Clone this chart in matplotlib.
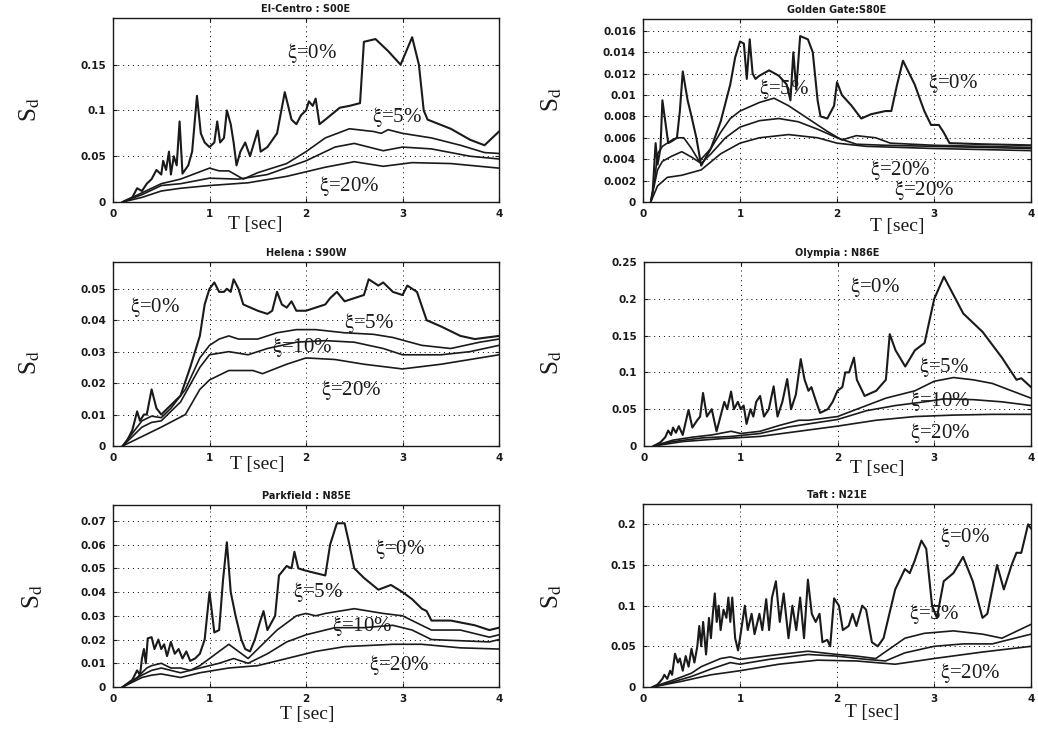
import matplotlib
matplotlib.use("Agg")
from matplotlib import pyplot as plt

# ---- data: (T [sec], Sd) ----
# El-Centro : S00E
elc_0 = [(0.1, 0), (0.2, 0.005), (0.25, 0.015), (0.3, 0.012), (0.35, 0.02), (0.4, 0.025),
         (0.45, 0.035), (0.5, 0.03), (0.52, 0.045), (0.55, 0.035), (0.58, 0.055), (0.6, 0.03),
         (0.63, 0.05), (0.66, 0.04), (0.69, 0.088), (0.72, 0.031), (0.78, 0.04), (0.82, 0.055),
         (0.87, 0.116), (0.91, 0.075), (0.95, 0.065), (1.0, 0.06), (1.05, 0.065), (1.08, 0.088),
         (1.11, 0.065), (1.15, 0.07), (1.18, 0.1), (1.22, 0.085), (1.25, 0.065), (1.28, 0.04),
         (1.32, 0.055), (1.37, 0.065), (1.42, 0.05), (1.5, 0.078), (1.53, 0.055), (1.6, 0.06),
         (1.7, 0.075), (1.78, 0.12), (1.85, 0.09), (1.9, 0.085), (1.95, 0.095), (2.0, 0.1),
         (2.03, 0.11), (2.07, 0.105), (2.1, 0.113), (2.14, 0.085), (2.2, 0.09), (2.35, 0.103),
         (2.45, 0.105), (2.56, 0.108), (2.6, 0.175), (2.72, 0.178), (2.85, 0.165), (2.98, 0.15),
         (3.1, 0.18), (3.17, 0.15), (3.22, 0.1), (3.26, 0.09), (3.5, 0.08), (3.7, 0.068),
         (3.85, 0.062), (4.0, 0.077)]
elc_5 = [(0.1, 0), (0.3, 0.01), (0.5, 0.02), (0.7, 0.025), (0.9, 0.033), (1.0, 0.037),
         (1.1, 0.034), (1.2, 0.034), (1.35, 0.025), (1.5, 0.032), (1.8, 0.042), (2.0, 0.055),
         (2.2, 0.07), (2.45, 0.08), (2.7, 0.077), (2.78, 0.075), (2.85, 0.079), (3.0, 0.075),
         (3.3, 0.07), (3.6, 0.062), (3.85, 0.054), (4.0, 0.053)]
elc_10 = [(0.1, 0), (0.3, 0.008), (0.5, 0.018), (0.7, 0.02), (1.0, 0.026), (1.3, 0.025),
          (1.6, 0.03), (2.0, 0.045), (2.3, 0.06), (2.5, 0.064), (2.8, 0.056), (3.0, 0.06),
          (3.3, 0.058), (3.7, 0.05), (4.0, 0.047)]
elc_20 = [(0.1, 0), (0.3, 0.005), (0.5, 0.012), (0.7, 0.015), (1.0, 0.018), (1.4, 0.021),
          (1.8, 0.028), (2.2, 0.038), (2.5, 0.044), (2.8, 0.039), (3.1, 0.043), (3.5, 0.042),
          (4.0, 0.037)]

# Golden Gate : S80E
gg_0 = [(0.08, 0), (0.1, 0.001), (0.13, 0.0055), (0.15, 0.0035), (0.18, 0.005), (0.2, 0.0095),
        (0.23, 0.0075), (0.26, 0.0055), (0.3, 0.0057), (0.35, 0.006), (0.38, 0.0085),
        (0.41, 0.0122), (0.46, 0.0095), (0.5, 0.008), (0.55, 0.006), (0.6, 0.0034), (0.7, 0.005),
        (0.8, 0.0075), (0.9, 0.011), (0.95, 0.0135), (1.0, 0.015), (1.04, 0.0148), (1.07, 0.0115),
        (1.1, 0.0152), (1.13, 0.012), (1.16, 0.0115), (1.2, 0.0118), (1.3, 0.0123), (1.4, 0.0118),
        (1.48, 0.011), (1.52, 0.0095), (1.55, 0.014), (1.58, 0.0105), (1.62, 0.0155), (1.7, 0.0152),
        (1.75, 0.014), (1.8, 0.0095), (1.83, 0.008), (1.9, 0.0078), (1.97, 0.009), (2.0, 0.0112),
        (2.05, 0.01), (2.15, 0.009), (2.25, 0.0078), (2.35, 0.0082), (2.5, 0.0085), (2.56, 0.0085),
        (2.62, 0.011), (2.68, 0.0132), (2.8, 0.011), (2.9, 0.0085), (2.97, 0.0072), (3.05, 0.0072),
        (3.1, 0.0065), (3.16, 0.0055), (3.5, 0.0054), (4.0, 0.0053)]
gg_5 = [(0.08, 0), (0.12, 0.002), (0.15, 0.0045), (0.2, 0.0052), (0.25, 0.0055), (0.3, 0.0058),
        (0.35, 0.006), (0.42, 0.006), (0.5, 0.005), (0.58, 0.0038), (0.7, 0.005), (0.8, 0.0065),
        (0.9, 0.0078), (1.0, 0.0085), (1.2, 0.0093), (1.35, 0.0097), (1.5, 0.009), (1.7, 0.0078),
        (1.9, 0.0066), (2.05, 0.0058), (2.2, 0.0062), (2.4, 0.006), (2.55, 0.0055), (3.0, 0.0053),
        (4.0, 0.0051)]
gg_10 = [(0.08, 0), (0.15, 0.003), (0.2, 0.0038), (0.3, 0.0043), (0.4, 0.0047), (0.5, 0.0042),
         (0.6, 0.0036), (0.7, 0.0045), (0.85, 0.006), (1.0, 0.007), (1.2, 0.0076), (1.4, 0.0078),
         (1.6, 0.0075), (1.8, 0.0068), (2.0, 0.006), (2.2, 0.0054), (2.5, 0.0053), (3.0, 0.0052),
         (4.0, 0.005)]
gg_20 = [(0.08, 0), (0.15, 0.0015), (0.25, 0.0023), (0.4, 0.0025), (0.6, 0.003), (0.8, 0.0045),
         (1.0, 0.0055), (1.2, 0.006), (1.5, 0.0063), (1.8, 0.006), (2.0, 0.0055), (2.3, 0.0052),
         (3.0, 0.005), (4.0, 0.0048)]

# Helena : S90W
hel_0 = [(0.1, 0), (0.15, 0.002), (0.2, 0.005), (0.25, 0.011), (0.28, 0.008), (0.32, 0.01),
         (0.35, 0.01), (0.4, 0.018), (0.45, 0.012), (0.5, 0.01), (0.6, 0.013), (0.7, 0.016),
         (0.8, 0.025), (0.9, 0.035), (0.95, 0.045), (1.0, 0.05), (1.05, 0.052), (1.1, 0.049),
         (1.15, 0.049), (1.18, 0.05), (1.22, 0.049), (1.25, 0.053), (1.3, 0.05), (1.35, 0.045),
         (1.5, 0.043), (1.6, 0.042), (1.65, 0.043), (1.7, 0.049), (1.75, 0.045), (1.8, 0.044),
         (1.85, 0.046), (1.9, 0.043), (2.0, 0.043), (2.1, 0.044), (2.2, 0.045), (2.25, 0.047),
         (2.32, 0.049), (2.4, 0.046), (2.5, 0.047), (2.6, 0.048), (2.65, 0.053), (2.75, 0.051),
         (2.8, 0.052), (2.9, 0.049), (3.0, 0.048), (3.05, 0.051), (3.15, 0.049), (3.25, 0.04),
         (3.4, 0.038), (3.6, 0.035), (3.75, 0.034), (4.0, 0.035)]
hel_5 = [(0.1, 0), (0.2, 0.004), (0.3, 0.008), (0.4, 0.0095), (0.5, 0.009), (0.6, 0.012),
         (0.75, 0.018), (0.9, 0.028), (1.0, 0.032), (1.1, 0.034), (1.2, 0.035), (1.3, 0.034),
         (1.5, 0.034), (1.7, 0.036), (1.9, 0.037), (2.1, 0.037), (2.4, 0.036), (2.7, 0.0355),
         (2.9, 0.0345), (3.2, 0.032), (3.5, 0.031), (3.8, 0.033), (4.0, 0.034)]
hel_10 = [(0.1, 0), (0.2, 0.003), (0.3, 0.006), (0.4, 0.0075), (0.5, 0.008), (0.7, 0.014),
          (0.9, 0.025), (1.0, 0.029), (1.2, 0.03), (1.4, 0.029), (1.6, 0.031), (1.9, 0.033),
          (2.2, 0.0335), (2.5, 0.033), (2.8, 0.031), (3.0, 0.029), (3.4, 0.029), (3.7, 0.03),
          (4.0, 0.032)]
hel_20 = [(0.1, 0), (0.3, 0.003), (0.5, 0.006), (0.75, 0.01), (0.9, 0.018), (1.0, 0.021),
          (1.2, 0.024), (1.45, 0.024), (1.55, 0.023), (1.8, 0.026), (2.0, 0.028), (2.3, 0.0275),
          (2.6, 0.026), (3.0, 0.0245), (3.4, 0.026), (3.7, 0.0275), (4.0, 0.029)]

# Olympia : N86E
oly_0 = [(0.1, 0), (0.17, 0.005), (0.22, 0.012), (0.25, 0.021), (0.28, 0.015), (0.3, 0.025),
         (0.33, 0.018), (0.36, 0.027), (0.4, 0.015), (0.46, 0.049), (0.5, 0.025), (0.55, 0.035),
         (0.58, 0.04), (0.61, 0.072), (0.65, 0.04), (0.7, 0.05), (0.75, 0.02), (0.8, 0.045),
         (0.83, 0.06), (0.86, 0.05), (0.9, 0.074), (0.93, 0.05), (0.97, 0.06), (1.0, 0.05),
         (1.03, 0.055), (1.06, 0.03), (1.1, 0.05), (1.13, 0.04), (1.16, 0.06), (1.2, 0.068),
         (1.24, 0.04), (1.29, 0.05), (1.34, 0.081), (1.38, 0.04), (1.43, 0.06), (1.48, 0.091),
         (1.52, 0.05), (1.57, 0.07), (1.62, 0.118), (1.66, 0.09), (1.7, 0.075), (1.73, 0.08),
         (1.78, 0.06), (1.82, 0.045), (1.9, 0.05), (1.95, 0.06), (2.0, 0.075), (2.05, 0.08),
         (2.08, 0.1), (2.12, 0.1), (2.17, 0.12), (2.2, 0.09), (2.28, 0.068), (2.4, 0.075),
         (2.5, 0.09), (2.54, 0.152), (2.6, 0.13), (2.7, 0.108), (2.8, 0.13), (2.9, 0.14),
         (2.95, 0.17), (3.0, 0.2), (3.1, 0.23), (3.2, 0.205), (3.3, 0.18), (3.5, 0.155),
         (3.7, 0.12), (3.85, 0.09), (3.9, 0.092), (4.0, 0.08)]
oly_5 = [(0.1, 0), (0.3, 0.008), (0.5, 0.012), (0.7, 0.015), (0.9, 0.02), (1.0, 0.017),
         (1.2, 0.02), (1.4, 0.028), (1.6, 0.035), (1.7, 0.035), (2.0, 0.04), (2.3, 0.055),
         (2.5, 0.065), (2.8, 0.075), (3.0, 0.088), (3.2, 0.093), (3.4, 0.09), (3.6, 0.085),
         (4.0, 0.065)]
oly_10 = [(0.1, 0), (0.3, 0.006), (0.6, 0.011), (0.9, 0.013), (1.2, 0.017), (1.5, 0.026),
          (1.8, 0.032), (2.0, 0.036), (2.3, 0.048), (2.6, 0.055), (2.9, 0.06), (3.1, 0.064),
          (3.4, 0.063), (3.7, 0.06), (4.0, 0.055)]
oly_20 = [(0.1, 0), (0.4, 0.006), (0.8, 0.01), (1.2, 0.013), (1.6, 0.02), (2.0, 0.027),
          (2.4, 0.035), (2.8, 0.04), (3.2, 0.042), (3.6, 0.043), (4.0, 0.043)]

# Parkfield : N85E
prk_0 = [(0.1, 0), (0.2, 0.003), (0.25, 0.007), (0.28, 0.005), (0.3, 0.012), (0.32, 0.016),
         (0.34, 0.01), (0.36, 0.0205), (0.4, 0.021), (0.43, 0.016), (0.47, 0.02), (0.5, 0.016),
         (0.53, 0.018), (0.56, 0.013), (0.6, 0.019), (0.64, 0.014), (0.68, 0.016), (0.72, 0.012),
         (0.76, 0.015), (0.8, 0.011), (0.85, 0.012), (0.9, 0.014), (0.95, 0.02), (1.0, 0.04),
         (1.05, 0.023), (1.1, 0.024), (1.14, 0.045), (1.18, 0.061), (1.22, 0.04), (1.27, 0.03),
         (1.33, 0.02), (1.37, 0.016), (1.42, 0.015), (1.47, 0.02), (1.52, 0.027), (1.56, 0.032),
         (1.6, 0.024), (1.68, 0.03), (1.72, 0.047), (1.76, 0.049), (1.8, 0.051), (1.85, 0.05),
         (1.88, 0.057), (1.92, 0.05), (2.0, 0.049), (2.1, 0.048), (2.2, 0.047), (2.25, 0.06),
         (2.32, 0.069), (2.4, 0.069), (2.45, 0.06), (2.5, 0.05), (2.6, 0.046), (2.75, 0.041),
         (2.88, 0.043), (3.0, 0.04), (3.1, 0.037), (3.2, 0.033), (3.25, 0.032), (3.3, 0.028),
         (3.5, 0.028), (3.75, 0.026), (3.9, 0.024), (4.0, 0.025)]
prk_5 = [(0.1, 0), (0.25, 0.004), (0.35, 0.008), (0.4, 0.009), (0.5, 0.01), (0.6, 0.008),
         (0.7, 0.008), (0.8, 0.007), (0.9, 0.009), (1.0, 0.012), (1.1, 0.015), (1.2, 0.018),
         (1.3, 0.015), (1.4, 0.012), (1.5, 0.016), (1.7, 0.024), (1.9, 0.03), (2.0, 0.031),
         (2.1, 0.03), (2.2, 0.031), (2.5, 0.033), (2.8, 0.031), (3.0, 0.03), (3.3, 0.024),
         (3.6, 0.024), (3.9, 0.021), (4.0, 0.022)]
prk_10 = [(0.1, 0), (0.3, 0.005), (0.4, 0.007), (0.5, 0.008), (0.7, 0.006), (0.9, 0.008),
          (1.1, 0.01), (1.25, 0.012), (1.4, 0.01), (1.6, 0.014), (1.8, 0.019), (2.0, 0.022),
          (2.3, 0.025), (2.6, 0.025), (2.9, 0.026), (3.1, 0.024), (3.3, 0.02), (3.6, 0.0195),
          (3.9, 0.019), (4.0, 0.02)]
prk_20 = [(0.1, 0), (0.3, 0.004), (0.4, 0.005), (0.5, 0.0055), (0.7, 0.004), (0.9, 0.006),
          (1.2, 0.008), (1.5, 0.009), (1.8, 0.012), (2.1, 0.015), (2.4, 0.017), (2.9, 0.018),
          (3.2, 0.018), (3.6, 0.0165), (4.0, 0.016)]

# Taft : N21E
taft_0 = [(0.1, 0), (0.15, 0.003), (0.2, 0.01), (0.22, 0.015), (0.25, 0.01), (0.28, 0.02),
          (0.3, 0.015), (0.33, 0.041), (0.36, 0.03), (0.38, 0.035), (0.41, 0.02), (0.44, 0.038),
          (0.47, 0.025), (0.5, 0.047), (0.53, 0.03), (0.56, 0.05), (0.58, 0.075), (0.6, 0.05),
          (0.62, 0.08), (0.65, 0.04), (0.68, 0.085), (0.7, 0.06), (0.72, 0.09), (0.74, 0.115),
          (0.76, 0.08), (0.78, 0.1), (0.8, 0.07), (0.83, 0.095), (0.86, 0.085), (0.88, 0.11),
          (0.9, 0.08), (0.92, 0.11), (0.95, 0.06), (0.98, 0.045), (1.0, 0.06), (1.05, 0.1),
          (1.08, 0.07), (1.12, 0.09), (1.15, 0.065), (1.2, 0.09), (1.23, 0.07), (1.27, 0.108),
          (1.3, 0.07), (1.33, 0.11), (1.37, 0.13), (1.41, 0.08), (1.45, 0.115), (1.5, 0.06),
          (1.54, 0.1), (1.58, 0.07), (1.62, 0.11), (1.66, 0.06), (1.7, 0.132), (1.74, 0.09),
          (1.78, 0.08), (1.82, 0.09), (1.85, 0.055), (1.9, 0.058), (1.93, 0.05), (1.97, 0.109),
          (2.02, 0.1), (2.06, 0.07), (2.12, 0.075), (2.16, 0.09), (2.2, 0.075), (2.26, 0.1),
          (2.3, 0.095), (2.36, 0.055), (2.42, 0.05), (2.48, 0.06), (2.6, 0.12), (2.7, 0.145),
          (2.75, 0.14), (2.8, 0.155), (2.87, 0.18), (2.92, 0.17), (2.98, 0.1), (3.03, 0.085),
          (3.1, 0.13), (3.2, 0.14), (3.3, 0.16), (3.4, 0.13), (3.5, 0.085), (3.55, 0.09),
          (3.65, 0.15), (3.72, 0.12), (3.8, 0.15), (3.85, 0.165), (3.9, 0.165), (3.97, 0.2),
          (4.0, 0.195)]
taft_5 = [(0.1, 0), (0.3, 0.008), (0.5, 0.017), (0.6, 0.025), (0.8, 0.035), (0.9, 0.037),
          (1.0, 0.034), (1.2, 0.037), (1.4, 0.04), (1.7, 0.044), (2.0, 0.04), (2.2, 0.038),
          (2.4, 0.035), (2.7, 0.06), (2.9, 0.066), (3.2, 0.069), (3.5, 0.065), (3.7, 0.06),
          (4.0, 0.077)]
taft_10 = [(0.1, 0), (0.3, 0.006), (0.5, 0.013), (0.7, 0.022), (0.9, 0.03), (1.0, 0.028),
           (1.3, 0.034), (1.7, 0.04), (2.0, 0.038), (2.3, 0.034), (2.5, 0.032), (2.7, 0.042),
           (3.0, 0.05), (3.3, 0.053), (3.6, 0.053), (4.0, 0.065)]
taft_20 = [(0.1, 0), (0.4, 0.007), (0.7, 0.015), (1.0, 0.02), (1.4, 0.028), (1.8, 0.033),
           (2.2, 0.032), (2.6, 0.028), (3.0, 0.035), (3.5, 0.043), (4.0, 0.05)]

titles = ["El-Centro : S00E", "Golden Gate:S80E", "Helena : S90W",
          "Olympia : N86E", "Parkfield : N85E", "Taft : N21E"]
ytick_vals = [[0, 0.05, 0.1, 0.15],
              [0, 0.002, 0.004, 0.006, 0.008, 0.01, 0.012, 0.014, 0.016],
              [0, 0.01, 0.02, 0.03, 0.04, 0.05],
              [0, 0.05, 0.1, 0.15, 0.2, 0.25],
              [0, 0.01, 0.02, 0.03, 0.04, 0.05, 0.06, 0.07],
              [0, 0.05, 0.1, 0.15, 0.2]]
ytick_text = [["0", "0.05", "0.1", "0.15"],
              ["0", "0.002", "0.004", "0.006", "0.008", "0.01", "0.012", "0.014", "0.016"],
              ["0", "0.01", "0.02", "0.03", "0.04", "0.05"],
              ["0", "0.05", "0.1", "0.15", "0.2", "0.25"],
              ["0", "0.01", "0.02", "0.03", "0.04", "0.05", "0.06", "0.07"],
              ["0", "0.05", "0.1", "0.15", "0.2"]]
ymax = [0.201, 0.0171, 0.0585, 0.25, 0.0767, 0.225]
curves = [[elc_0, elc_5, elc_10, elc_20], [gg_0, gg_5, gg_10, gg_20],
          [hel_0, hel_5, hel_10, hel_20], [oly_0, oly_5, oly_10, oly_20],
          [prk_0, prk_5, prk_10, prk_20], [taft_0, taft_5, taft_10, taft_20]]
# damping labels: (damping %, T, Sd)
labels = [[("0", 2.06, 0.163), ("5", 2.94, 0.093), ("20", 2.45, 0.017)],
          [("0", 3.2, 0.0111), ("5", 1.45, 0.0106), ("20", 2.65, 0.003),
           ("20", 2.9, 0.0011)],
          [("0", 0.44, 0.0443), ("5", 2.65, 0.039), ("10", 1.96, 0.0316),
           ("20", 2.47, 0.0179)],
          [("0", 2.39, 0.216), ("5", 3.1, 0.107), ("10", 3.06, 0.061),
           ("20", 3.06, 0.017)],
          [("0", 2.97, 0.058), ("5", 2.13, 0.040), ("10", 2.58, 0.0255),
           ("20", 2.97, 0.0094)],
          [("0", 3.32, 0.185), ("5", 3.0, 0.09), ("20", 3.37, 0.017)]]

# axes boxes in pixels (left, top, right, bottom) and label anchors
W, H = 1038, 735
boxes = [(113, 18, 499, 202), (643, 19, 1031, 202), (113, 262, 499, 446),
         (644, 262, 1031, 446), (113, 505, 499, 687), (643, 504, 1031, 687)]
tsec_pos = [(255, 224), (897, 226), (257, 465), (877, 469), (307, 714), (872, 712)]
sd_pos = [(30, 110), (552, 100), (30, 363), (552, 363), (33, 597), (552, 597)]

plt.rcParams['mathtext.fontset'] = 'stix'
serif = ['Liberation Serif', 'DejaVu Serif']
ink = '#1a1a1a'

fig = plt.figure(figsize=(W / 100, H / 100), dpi=100)
for i in range(6):
    l, t, r, b = boxes[i]
    ax = fig.add_axes([l / W, 1 - b / H, (r - l) / W, (b - t) / H])
    for k, c in enumerate(curves[i]):
        T = [p[0] for p in c]
        S = [p[1] for p in c]
        ax.plot(T, S, color=ink, lw=1.5 if k == 0 else 1.2)
    ax.set_xlim(0, 4)
    ax.set_ylim(0, ymax[i])
    ax.set_xticks([0, 1, 2, 3, 4])
    ax.set_xticklabels(["0", "1", "2", "3", "4"])
    ax.set_yticks(ytick_vals[i])
    ax.set_yticklabels(ytick_text[i])
    ax.grid(True, color='black', linestyle=(0, (1, 4)), lw=0.7)
    ax.tick_params(direction='in', length=3, top=True, right=True, labelsize=7.5,
                   pad=5, colors=ink)
    for lab in ax.get_xticklabels() + ax.get_yticklabels():
        lab.set_fontweight('bold')
    for s in ax.spines.values():
        s.set_color(ink)
        s.set_linewidth(1.0)
    ax.set_title(titles[i], fontsize=7, fontweight='bold', pad=4, color=ink)
    for pct, tx, ty in labels[i]:
        ax.text(tx, ty, r"$\mathrm{\xi}$=" + pct + "%", family=serif, fontsize=15,
                ha='center', va='center', color=ink)
    fig.text(tsec_pos[i][0] / W, 1 - tsec_pos[i][1] / H, "T [sec]", family=serif,
             fontsize=14, ha='center', va='center', color=ink)
    fig.text(sd_pos[i][0] / W, 1 - sd_pos[i][1] / H, r"S$_\mathrm{d}$", family=serif,
             fontsize=18, ha='center', va='center', rotation=90, color=ink)

fig.savefig("out.png", dpi=100)
